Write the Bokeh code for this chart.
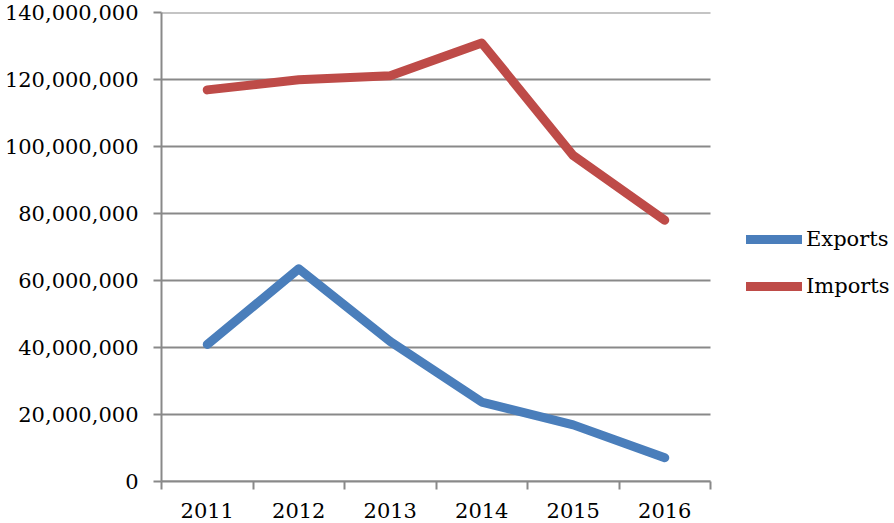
from bokeh.plotting import figure
from bokeh.models import (Range1d, LinearAxis, FixedTicker, NumeralTickFormatter,
                          Legend, LegendItem, ColumnDataSource)
from bokeh.embed import file_html
from bokeh.resources import INLINE

years = ["2011", "2012", "2013", "2014", "2015", "2016"]
exports = [40.9e6, 63.5e6, 41.8e6, 23.7e6, 16.9e6, 7.1e6]
imports = [116.9e6, 119.9e6, 121.1e6, 130.9e6, 97.3e6, 78.0e6]
y_ticks = [0, 20e6, 40e6, 60e6, 80e6, 100e6, 120e6, 140e6]

FONT = "DejaVu Serif"
FS = "21px"
GRAY = "#898989"

W, H = 894, 523
LEFT, PLOT_RIGHT = 161, 710          # plotting area spans these pixels
n = len(years)
slot = (PLOT_RIGHT - LEFT) / n
x_end = (W - LEFT) / slot            # frame extends to the right edge to host the legend

# category slots: each year occupies one unit, centred at i + 0.5
centers = [i + 0.5 for i in range(n)]
bounds = list(range(n + 1))

p = figure(width=W, height=H, output_backend="svg", toolbar_location=None,
           x_range=Range1d(0, x_end), y_range=Range1d(0, 140e6),
           x_axis_location=None, y_axis_location=None,
           min_border_left=LEFT, min_border_right=0, min_border_top=12, min_border_bottom=42)
p.outline_line_color = None
p.background_fill_color = "white"
p.border_fill_color = "white"

# y axis
yax = LinearAxis(ticker=FixedTicker(ticks=y_ticks), formatter=NumeralTickFormatter(format="0,0"))
yax.axis_line_color = GRAY
yax.axis_line_width = 2
yax.major_tick_line_color = GRAY
yax.major_tick_line_width = 2
yax.major_tick_out = 8
yax.major_tick_in = 0
yax.minor_tick_line_color = None
yax.major_label_standoff = 15
yax.major_label_text_font = FONT
yax.major_label_text_font_size = FS
yax.major_label_text_color = "black"
p.add_layout(yax, "left")

# x axis: ticks between categories, labels at centres
xax = LinearAxis(ticker=FixedTicker(ticks=centers, minor_ticks=bounds),
                 major_label_overrides={c: y for c, y in zip(centers, years)},
                 bounds=(0, n))
xax.axis_line_color = GRAY
xax.axis_line_width = 2
xax.major_tick_line_color = None
xax.major_tick_out = 0
xax.major_tick_in = 0
xax.minor_tick_line_color = GRAY
xax.minor_tick_line_width = 2
xax.minor_tick_out = 8
xax.minor_tick_in = 0
xax.major_label_standoff = 13
xax.major_label_text_font = FONT
xax.major_label_text_font_size = FS
xax.major_label_text_color = "black"
p.add_layout(xax, "below")

p.ygrid.grid_line_color = None
p.xgrid.grid_line_color = None

# horizontal gridlines limited to the category area
grid_src = ColumnDataSource(dict(x0=[0] * len(y_ticks), x1=[n] * len(y_ticks), y=y_ticks))
p.segment(x0="x0", x1="x1", y0="y", y1="y", source=grid_src, line_color=GRAY, line_width=2)

src = ColumnDataSource(dict(x=centers, year=years, exports=exports, imports=imports))
r_exp = p.line("x", "exports", source=src, line_color="#4A7EBB", line_width=9,
               line_join="round", line_cap="round")
r_imp = p.line("x", "imports", source=src, line_color="#BE4B48", line_width=9,
               line_join="round", line_cap="round")

legend = Legend(items=[LegendItem(label="Exports", renderers=[r_exp]),
                       LegendItem(label="Imports", renderers=[r_imp])],
                location=(585, 182))
legend.border_line_color = None
legend.background_fill_alpha = 0
legend.padding = 0
legend.margin = 0
legend.glyph_width = 56
legend.glyph_height = 26
legend.label_height = 26
legend.spacing = 21
legend.label_standoff = 4
legend.label_text_font = FONT
legend.label_text_font_size = FS
legend.label_text_color = "black"
p.add_layout(legend, "center")

open("out.html", "w").write(file_html(p, INLINE))
